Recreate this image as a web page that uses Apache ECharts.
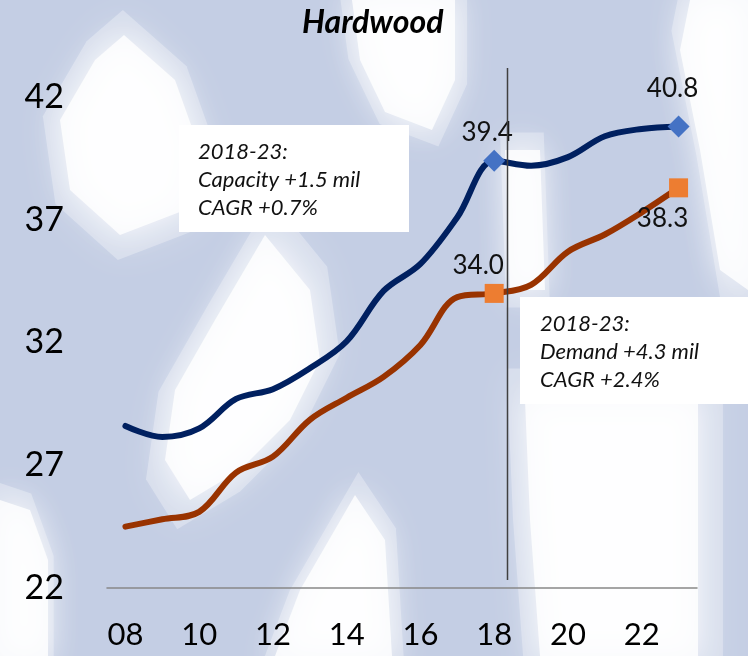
<!DOCTYPE html>
<html>
<head>
<meta charset="utf-8">
<script src="https://cdn.jsdelivr.net/npm/echarts@6/dist/echarts.min.js"></script>
<style>
html, body { margin: 0; padding: 0; }
#main { width: 748px; height: 656px; }
</style>
</head>
<body>
<div id="main"></div>
<script>
// hardwood capacity vs demand, 2008-2023
var years = ['08','09','10','11','12','13','14','15','16','17','18','19','20','21','22','23'];
var capacity = [28.6, 28.15, 28.5, 29.7, 30.1, 30.95, 32.05, 34.1, 35.2, 37.1, 39.4, 39.2, 39.55, 40.4, 40.7, 40.8];
var demand = [24.5, 24.8, 25.1, 26.7, 27.35, 28.85, 29.75, 30.6, 31.9, 33.85, 34.0, 34.35, 35.7, 36.4, 37.3, 38.3];
var markedIdx = [10, 15];   // 2018 and 2023 get a marker + value
var capLabelPos = { 10: ['top', [-7, 0], 4], 15: ['top', [-6, 0], 14] };
var demLabelPos = { 10: ['top', [-16, 0], 5], 15: ['bottom', [-16, 0], 8] };

function buildData(values, symbol, size, color, labelPos) {
    return values.map(function (v, i) {
        if (markedIdx.indexOf(i) < 0) {
            return { value: v, symbolSize: 0 };
        }
        var lp = labelPos[i];
        return {
            value: v,
            symbol: symbol,
            symbolSize: size,
            itemStyle: { color: color },
            label: {
                show: true,
                position: lp[0],
                offset: lp[1],
                distance: lp[2],
                formatter: function (p) { return p.value.toFixed(1); },
                fontFamily: 'Lato',
                fontSize: 26,
                color: '#111'
            }
        };
    });
}

// soft white patches of the backdrop
var blobs = [
    [[124,35],[175,80],[200,150],[185,210],[120,235],[70,190],[60,120],[95,60]],
    [[352,0],[455,0],[455,80],[432,130],[385,112],[360,60]],
    [[690,0],[748,0],[748,290],[720,270],[700,150],[680,50]],
    [[265,235],[310,290],[320,360],[290,420],[240,470],[190,500],[165,460],[175,390],[215,320]],
    [[525,400],[698,400],[698,656],[540,656],[530,520]],
    [[0,500],[30,510],[48,560],[48,656],[0,656]],
    [[355,495],[385,540],[392,656],[275,656],[300,590]],
    [[505,150],[540,150],[545,290],[510,290]]
];

function grow(pts, k) {
    var cx = 0, cy = 0;
    pts.forEach(function (p) { cx += p[0]; cy += p[1]; });
    cx /= pts.length; cy /= pts.length;
    return pts.map(function (p) { return [cx + (p[0] - cx) * k, cy + (p[1] - cy) * k]; });
}

var myChart = echarts.init(document.getElementById('main'));

var graphics = [];
blobs.forEach(function (pts) {
    graphics.push({
        type: 'polygon', z: -12,
        shape: { points: grow(pts, 1.25) },
        style: { fill: 'rgba(255,255,255,0.3)', shadowBlur: 40, shadowColor: 'rgba(255,255,255,0.6)' }
    });
    graphics.push({
        type: 'polygon', z: -10,
        shape: { points: pts },
        style: { fill: 'rgba(255,255,255,0.8)', shadowBlur: 30, shadowColor: '#ffffff' }
    });
});

graphics.push({
    type: 'group', z: 100,
    children: [
        { type: 'rect', shape: { x: 179, y: 125, width: 230, height: 107 }, style: { fill: '#fff' } },
        { type: 'text', left: 198, top: 138, style: {
            text: '2018-23:\nCapacity +1.5 mil\nCAGR +0.7%',
            font: 'italic 22px Lato', lineHeight: 28, fill: '#111' } }
    ]
});
graphics.push({
    type: 'group', z: 100,
    children: [
        { type: 'rect', shape: { x: 520, y: 297, width: 228, height: 107 }, style: { fill: '#fff' } },
        { type: 'text', left: 540, top: 310, style: {
            text: '2018-23:\nDemand +4.3 mil\nCAGR +2.4%',
            font: 'italic 22px Lato', lineHeight: 28, fill: '#111' } }
    ]
});

option = {
    backgroundColor: '#c4cee4',
    animation: false,
    title: {
        left: 297,
        top: 2,
        text: 'Hardwood',
        textStyle: {
            fontFamily: 'Lato',
            fontSize: 32,
            fontWeight: 'bold',
            fontStyle: 'italic',
            color: '#000'
        }
    },
    grid: {
        left: 107,
        right: 51,
        top: 97,
        bottom: 68
    },
    xAxis: {
        type: 'category',
        data: years,
        boundaryGap: true,
        axisLine: { lineStyle: { color: '#888', width: 1.5 } },
        axisTick: { show: false },
        axisLabel: {
            interval: 1,
            margin: 31,
            fontFamily: 'Lato',
            fontSize: 31,
            color: '#000'
        },
        splitLine: { show: false }
    },
    yAxis: {
        type: 'value',
        min: 22,
        max: 42,
        interval: 5,
        axisLine: { show: false },
        axisTick: { show: false },
        splitLine: { show: false },
        axisLabel: {
            margin: 43,
            fontFamily: 'Lato',
            fontSize: 34,
            color: '#000'
        }
    },
    series: [
        {
            name: 'Capacity',
            type: 'line',
            smooth: 0.35,
            showSymbol: true,
            symbol: 'diamond',
            lineStyle: { color: '#002060', width: 6, cap: 'round' },
            itemStyle: { color: '#4472c4' },
            data: buildData(capacity, 'diamond', 22, '#4472c4', capLabelPos)
        },
        {
            name: 'Demand',
            type: 'line',
            smooth: 0.35,
            showSymbol: true,
            symbol: 'rect',
            lineStyle: { color: '#993300', width: 6, cap: 'round' },
            itemStyle: { color: '#ed7d31' },
            data: buildData(demand, 'rect', 19, '#ed7d31', demLabelPos)
        }
    ],
    graphic: graphics
};

myChart.setOption(option);

// divider between actuals and forecast, a third of the way past 2018
var p18 = myChart.convertToPixel({ xAxisIndex: 0 }, '18');
var p19 = myChart.convertToPixel({ xAxisIndex: 0 }, '19');
var divX = Math.round(p18 + (p19 - p18) * 0.35) + 0.5;
graphics.push({
    type: 'line', z: 50,
    shape: { x1: divX, y1: 68, x2: divX, y2: 580 },
    style: { stroke: '#404040', lineWidth: 1.5 }
});
myChart.setOption({ graphic: graphics }, { replaceMerge: ['graphic'] });
window.onresize = myChart.resize;
</script>
</body>
</html>
